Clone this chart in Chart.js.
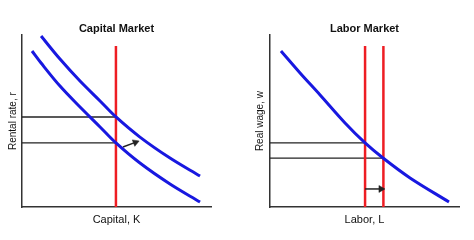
<!DOCTYPE html>
<html>
<head>
<meta charset="utf-8">
<script src="https://cdn.jsdelivr.net/npm/chart.js@4"></script>
<style>
  html, body { margin: 0; padding: 0; background: #fff; }
  .wrap { display: flex; width: 474px; height: 240px; }
  canvas { display: block; }
</style>
</head>
<body>
<div class="wrap">
  <canvas id="capitalChart" width="237" height="240"></canvas>
  <canvas id="laborChart" width="237" height="240"></canvas>
</div>
<script>
// Capital market (units are arbitrary 0-10 on both axes)
const capitalUpperK = [1.01, 2.01, 3.07, 4.13, 4.97, 6.24, 7.83, 9.42];
const capitalUpperR = [9.95, 8.61, 7.33, 6.17, 5.24, 4.07, 2.85, 1.80];
const capitalLowerK = [0.53, 1.01, 2.01, 3.07, 4.13, 4.97, 6.24, 7.83, 9.42];
const capitalLowerR = [9.08, 8.38, 7.04, 5.82, 4.66, 3.73, 2.56, 1.34, 0.29];
const capitalSupplyK = [4.97];
const capitalRates = [5.24, 3.73];
const capitalArrowK = [5.34, 6.00];
const capitalArrowR = [3.49, 3.76];

// Labor market
const laborDemandL = [0.58, 1.59, 2.65, 3.97, 5.03, 5.98, 7.41, 9.47];
const laborDemandW = [9.08, 7.80, 6.52, 4.89, 3.73, 2.85, 1.69, 0.29];
const laborSupplyL = [5.03, 6.00];
const laborWages = [3.73, 2.85];
const laborArrowL = [5.03, 5.87];
const laborArrowW = [1.05, 1.05];

const supplyTop = 9.37;

const BLUE = '#1818e0';
const RED = '#ee1d23';
const DARK = '#222';

Chart.defaults.font.family = "'Liberation Sans', Arial, sans-serif";
Chart.defaults.color = '#111';

function toPoints(xs, ys) {
    return xs.map((x, i) => ({ x: x, y: ys[i] }));
}

function curve(xs, ys) {
    return {
        data: toPoints(xs, ys),
        showLine: true,
        borderColor: BLUE,
        borderWidth: 3,
        tension: 0.35,
        pointRadius: 0,
        clip: false
    };
}

function vline(x) {
    return {
        data: [{ x: x, y: 0 }, { x: x, y: supplyTop }],
        showLine: true,
        borderColor: RED,
        borderWidth: 2.5,
        pointRadius: 0,
        clip: false
    };
}

function guide(x, y) {
    return {
        data: [{ x: 0, y: y }, { x: x, y: y }],
        showLine: true,
        borderColor: DARK,
        borderWidth: 1.3,
        pointRadius: 0,
        clip: false
    };
}

function arrow(xs, ys, rotation) {
    return {
        data: toPoints(xs, ys),
        showLine: true,
        borderColor: DARK,
        borderWidth: 1.5,
        pointStyle: 'triangle',
        pointRadius: [0, 4],
        pointRotation: rotation,
        pointBackgroundColor: DARK,
        pointBorderColor: DARK,
        pointBorderWidth: 0.5,
        clip: false
    };
}

function buildOptions(p) {
    return {
        responsive: false,
        animation: false,
        devicePixelRatio: 1,
        layout: { padding: { top: 0, left: 0, right: p.padRight, bottom: 0 } },
        plugins: {
            legend: { display: false },
            tooltip: { enabled: false },
            title: {
                display: true,
                text: p.title,
                fullSize: false,
                color: '#111',
                font: { size: 11, weight: 'bold' },
                padding: { top: 22, bottom: 0 }
            }
        },
        scales: {
            x: {
                type: 'linear',
                min: 0,
                max: 10,
                grid: { display: false },
                border: { display: true, color: '#333', width: 1.5 },
                ticks: { display: false },
                title: {
                    display: true,
                    text: p.xTitle,
                    font: { size: 11 },
                    padding: { top: 0, bottom: 13 }
                },
                afterFit: s => { s.height = 33; }
            },
            y: {
                type: 'linear',
                min: 0,
                max: 10,
                grid: { display: false },
                border: { display: true, color: '#333', width: 1.5 },
                ticks: { display: false },
                title: {
                    display: true,
                    text: p.yTitle,
                    font: { size: 10 },
                    padding: { top: p.yPad, bottom: 0 }
                },
                afterFit: s => { s.width = p.yWidth; }
            }
        }
    };
}

new Chart(document.getElementById('capitalChart'), {
    type: 'scatter',
    data: {
        datasets: [
            curve(capitalUpperK, capitalUpperR),
            curve(capitalLowerK, capitalLowerR),
            arrow(capitalArrowK, capitalArrowR, 69),
            ...capitalSupplyK.map(k => vline(k)),
            ...capitalRates.map(r => guide(capitalSupplyK[0], r))
        ]
    },
    options: buildOptions({
        title: 'Capital Market',
        xTitle: 'Capital, K',
        yTitle: 'Rental rate, r',
        padRight: 26,
        yWidth: 22,
        yPad: 7
    })
});

new Chart(document.getElementById('laborChart'), {
    type: 'scatter',
    data: {
        datasets: [
            curve(laborDemandL, laborDemandW),
            arrow(laborArrowL, laborArrowW, 90),
            ...laborSupplyL.map(l => vline(l)),
            ...laborWages.map((w, i) => guide(laborSupplyL[i], w))
        ]
    },
    options: buildOptions({
        title: 'Labor Market',
        xTitle: 'Labor, L',
        yTitle: 'Real wage, w',
        padRight: 15,
        yWidth: 33,
        yPad: 17
    })
});
</script>
</body>
</html>
